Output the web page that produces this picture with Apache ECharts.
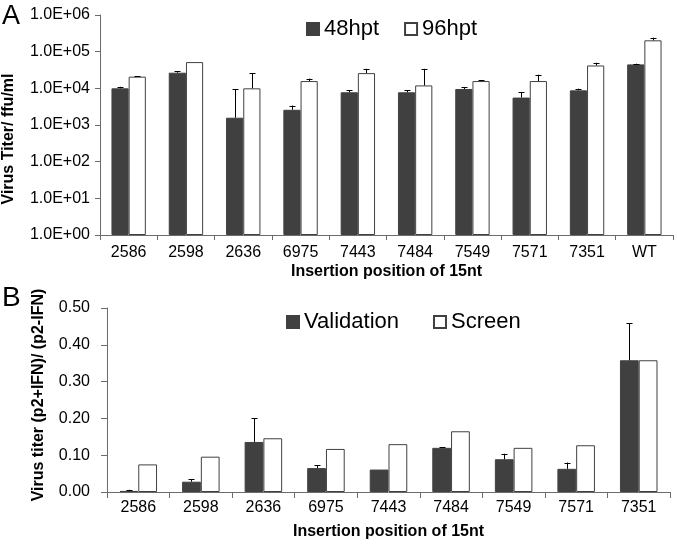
<!DOCTYPE html>
<html>
<head>
<meta charset="utf-8">
<script src="https://cdn.jsdelivr.net/npm/echarts@6/dist/echarts.min.js"></script>
<style>
html,body{margin:0;padding:0;background:#fff;}
#chart{width:677px;height:545px;}
</style>
</head>
<body>
<div id="chart"></div>
<script>
// ---- Panel A data ----
const categoriesA = ['2586','2598','2636','6975','7443','7484','7549','7571','7351','WT'];
const h48 = [10000, 26700, 1580, 2600, 7800, 7800, 9600, 5600, 8800, 45000];
const h48Sd = [1000, 2900, 7800, 800, 1000, 1000, 1300, 2200, 1000, 2000];
const h96 = [20800, 52000, 10000, 15800, 26000, 12000, 15800, 15800, 42000, 204000];
const h96Sd = [700, 0, 16000, 2600, 8000, 22000, 700, 7800, 8000, 37000];
const yTickLabelsA = ['1.0E+00','1.0E+01','1.0E+02','1.0E+03','1.0E+04','1.0E+05','1.0E+06'];

// ---- Panel B data ----
const categoriesB = ['2586','2598','2636','6975','7443','7484','7549','7571','7351'];
const validation = [0.003, 0.028, 0.136, 0.065, 0.061, 0.120, 0.089, 0.063, 0.358];
const validationSd = [0.003, 0.007, 0.064, 0.008, 0, 0.001, 0.015, 0.017, 0.100];
const screen = [0.075, 0.096, 0.146, 0.117, 0.130, 0.165, 0.120, 0.127, 0.358];

const FONT = '"Liberation Sans", Arial, sans-serif';
const DARK = '#404040';
const AXIS = '#6b6b6b';

function errData(vals, sds) {
  return vals.map((v, i) => [i, v, v + sds[i]]);
}
function errRender(side) {
  return function (params, api) {
    const idx = api.value(0);
    const v = api.value(1);
    const top = api.value(2);
    if (!(top > v)) return null;
    const p0 = api.coord([idx, v]);
    const p1 = api.coord([idx, top]);
    const band = Math.abs(api.coord([1, v])[0] - api.coord([0, v])[0]);
    const x = Math.round(p0[0] + side * band * 0.15) + 0.5;
    const style = { stroke: '#000', lineWidth: 1 };
    return {
      type: 'group',
      children: [
        { type: 'line', shape: { x1: x, y1: p0[1], x2: x, y2: p1[1] }, style: style },
        { type: 'line', shape: { x1: x - 3, y1: Math.round(p1[1]) + 0.5, x2: x + 3, y2: Math.round(p1[1]) + 0.5 }, style: style }
      ]
    };
  };
}

const chart = echarts.init(document.getElementById('chart'));
const option = {
  animation: false,
  backgroundColor: '#fff',
  textStyle: { fontFamily: FONT, color: '#000' },
  grid: [
    { left: 100, right: 4, top: 15, height: 220 },
    { left: 107, right: 7, top: 308, height: 184 }
  ],
  legend: [
    {
      left: 301, top: 13, itemWidth: 12, itemHeight: 12, itemGap: 25,
      icon: 'rect',
      textStyle: { fontSize: 22, fontFamily: FONT, color: '#000' },
      data: ['48hpt', '96hpt']
    },
    {
      left: 281, top: 306, itemWidth: 12, itemHeight: 12, itemGap: 34,
      icon: 'rect',
      textStyle: { fontSize: 22, fontFamily: FONT, color: '#000' },
      data: ['Validation', 'Screen']
    }
  ],
  xAxis: [
    {
      type: 'category', gridIndex: 0, data: categoriesA,
      axisLine: { lineStyle: { color: AXIS } },
      axisTick: { show: true, length: 5, lineStyle: { color: AXIS } },
      axisLabel: { fontSize: 16, color: '#000', margin: 10, interval: 0, fontFamily: FONT },
      name: 'Insertion position of 15nt', nameLocation: 'middle', nameGap: 29,
      nameTextStyle: { fontSize: 16, fontWeight: 'bold', color: '#000', fontFamily: FONT }
    },
    {
      type: 'category', gridIndex: 1, data: categoriesB,
      axisLine: { lineStyle: { color: AXIS } },
      axisTick: { show: true, length: 6, lineStyle: { color: AXIS } },
      axisLabel: { fontSize: 16, color: '#000', margin: 8, interval: 0, fontFamily: FONT },
      name: 'Insertion position of 15nt', nameLocation: 'middle', nameGap: 32,
      nameTextStyle: { fontSize: 16, fontWeight: 'bold', color: '#000', fontFamily: FONT }
    }
  ],
  yAxis: [
    {
      type: 'log', logBase: 10, gridIndex: 0, min: 1, max: 1000000,
      axisLine: { show: true, lineStyle: { color: AXIS } },
      axisTick: { show: true, length: 5, lineStyle: { color: AXIS } },
      splitLine: { show: false },
      minorTick: { show: false },
      axisLabel: {
        fontSize: 16, color: '#000', margin: 10, fontFamily: FONT,
        formatter: v => yTickLabelsA[Math.round(Math.log10(v))]
      }
    },
    {
      type: 'value', gridIndex: 1, min: 0, max: 0.5, interval: 0.1,
      axisLine: { show: true, lineStyle: { color: AXIS } },
      axisTick: { show: true, length: 6, lineStyle: { color: AXIS } },
      splitLine: { show: false },
      axisLabel: {
        fontSize: 16, color: '#000', margin: 17, fontFamily: FONT,
        formatter: v => v.toFixed(2)
      }
    }
  ],
  graphic: [
    { type: 'text', left: 2, top: 3, style: { text: 'A', fontSize: 27, fontFamily: FONT, fill: '#000' } },
    { type: 'text', left: 2, top: 284, style: { text: 'B', fontSize: 28, fontFamily: FONT, fill: '#000' } },
    {
      type: 'text', x: 9, y: 139, rotation: Math.PI / 2,
      style: { text: 'Virus Titer/ ffu/ml', fontSize: 16, fontWeight: 'bold', fontFamily: FONT, fill: '#000', align: 'center', verticalAlign: 'middle' }
    },
    {
      type: 'text', x: 39, y: 395, rotation: Math.PI / 2,
      style: { text: 'Virus titer (p2+IFN)/ (p2-IFN)', fontSize: 16, fontWeight: 'bold', fontFamily: FONT, fill: '#000', align: 'center', verticalAlign: 'middle' }
    }
  ],
  series: [
    {
      name: '48hpt', type: 'bar', xAxisIndex: 0, yAxisIndex: 0, data: h48,
      barGap: '0%', barCategoryGap: '40%',
      itemStyle: { color: DARK, borderColor: DARK, borderWidth: 1 }
    },
    {
      name: '96hpt', type: 'bar', xAxisIndex: 0, yAxisIndex: 0, data: h96,
      barGap: '0%', barCategoryGap: '40%',
      itemStyle: { color: '#fff', borderColor: '#404040', borderWidth: 1 }
    },
    {
      type: 'custom', xAxisIndex: 0, yAxisIndex: 0, z: 5,
      data: errData(h48, h48Sd), encode: { x: 0, y: [1, 2] }, renderItem: errRender(-1)
    },
    {
      type: 'custom', xAxisIndex: 0, yAxisIndex: 0, z: 5,
      data: errData(h96, h96Sd), encode: { x: 0, y: [1, 2] }, renderItem: errRender(1)
    },
    {
      name: 'Validation', type: 'bar', xAxisIndex: 1, yAxisIndex: 1, data: validation,
      barGap: '0%', barCategoryGap: '40%',
      itemStyle: { color: DARK, borderColor: DARK, borderWidth: 1 }
    },
    {
      name: 'Screen', type: 'bar', xAxisIndex: 1, yAxisIndex: 1, data: screen,
      barGap: '0%', barCategoryGap: '40%',
      itemStyle: { color: '#fff', borderColor: '#404040', borderWidth: 1 }
    },
    {
      type: 'custom', xAxisIndex: 1, yAxisIndex: 1, z: 5,
      data: errData(validation, validationSd), encode: { x: 0, y: [1, 2] }, renderItem: errRender(-1)
    }
  ]
};
chart.setOption(option);
</script>
</body>
</html>
